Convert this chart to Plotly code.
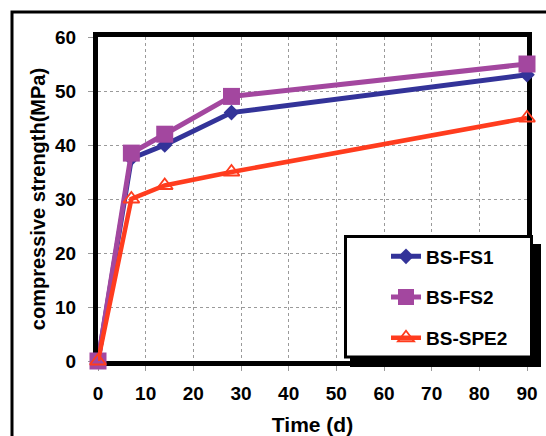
import plotly.graph_objects as go

days = [0, 7, 14, 28, 90]
bs_fs1 = [0, 37.5, 40, 46, 53]
bs_fs2 = [0, 38.5, 42, 49, 55]
bs_spe2 = [0, 30, 32.5, 35, 45]

x_ticks = [0, 10, 20, 30, 40, 50, 60, 70, 80, 90]
y_ticks = [0, 10, 20, 30, 40, 50, 60]

W, H = 546, 436
L, R, T, B = 98, 19, 37, 75
pw, ph = W - L - R, H - T - B


def px(x):
    return (x - L) / pw


def py(y):
    return 1 - (y - T) / ph


FONT = "Liberation Sans, Arial, sans-serif"

fig = go.Figure()
fig.add_trace(go.Scatter(
    x=days, y=bs_fs1, name="<b>BS-FS1</b>", mode="lines+markers",
    line=dict(color="#333399", width=5),
    marker=dict(symbol="diamond", size=12, color="#333399"),
    legendgroup="a", cliponaxis=False))
fig.add_trace(go.Scatter(
    x=days, y=bs_fs2, name="<b>BS-FS2</b>", mode="lines+markers",
    line=dict(color="#A3479F", width=5),
    marker=dict(symbol="square", size=17, color="#A3479F"),
    legendgroup="b", cliponaxis=False))
fig.add_trace(go.Scatter(
    x=days, y=bs_spe2, name="<b>BS-SPE2</b>", mode="lines+markers",
    line=dict(color="#FF3C1E", width=4.5),
    marker=dict(symbol="triangle-up-open", size=14, color="#FF3C1E",
                line=dict(width=1.8, color="#FF3C1E")),
    legendgroup="c", cliponaxis=False))

shapes = [
    # outer figure frame (left and top edges visible)
    dict(type="rect", xref="paper", yref="paper",
         x0=px(12), x1=px(560), y0=py(450), y1=py(12),
         line=dict(color="black", width=3), fillcolor="rgba(0,0,0,0)",
         layer="below"),
    # legend shadow
    dict(type="rect", xref="paper", yref="paper",
         x0=px(350), x1=px(541), y0=py(367), y1=py(244),
         line=dict(width=0), fillcolor="black", layer="above"),
    # legend box
    dict(type="rect", xref="paper", yref="paper",
         x0=px(345.5), x1=px(531.5), y0=py(357), y1=py(236.5),
         line=dict(color="black", width=3), fillcolor="white", layer="above"),
]

fig.update_layout(
    width=W, height=H,
    margin=dict(l=L, r=R, t=T, b=B),
    paper_bgcolor="white", plot_bgcolor="white",
    font=dict(family=FONT, color="black"),
    shapes=shapes,
    showlegend=True,
    legend=dict(
        x=px(386), y=py(237.5), xanchor="left", yanchor="top",
        bgcolor="rgba(0,0,0,0)", borderwidth=0,
        font=dict(size=19, family=FONT, color="black"),
        tracegroupgap=13,
    ),
    annotations=[
        dict(text="of the same years, Figure (4).", xref="paper", yref="paper",
             x=px(214), y=py(0), xanchor="right", yanchor="bottom",
             showarrow=False,
             font=dict(family="Liberation Serif, Times New Roman, serif",
                       size=20, color="black")),
    ],
)

fig.update_xaxes(
    range=[0, 90], tickvals=x_ticks,
    ticktext=[f"<b>{v}</b>" for v in x_ticks],
    tickfont=dict(size=19, family=FONT),
    showline=True, linewidth=5, linecolor="black", mirror=True,
    showgrid=True, gridcolor="#9a9a9a", griddash="dot", gridwidth=1,
    ticks="outside", ticklen=5, tickcolor="#9a9a9a", tickwidth=1,
    ticklabelstandoff=6, layer="below traces",
    zeroline=False, automargin=False,
    title=dict(text="<b>Time (d)</b>", font=dict(size=21, family=FONT),
               standoff=20),
)
fig.update_yaxes(
    range=[0, 60], tickvals=y_ticks,
    ticktext=[f"<b>{v}</b>" for v in y_ticks],
    tickfont=dict(size=19, family=FONT),
    showline=True, linewidth=5, linecolor="black", mirror=True,
    showgrid=True, gridcolor="#9a9a9a", griddash="dot", gridwidth=1,
    ticks="outside", ticklen=5, tickcolor="#9a9a9a", tickwidth=1,
    ticklabelstandoff=8, layer="below traces",
    zeroline=False, automargin=False,
    title=dict(text="<b>compressive strength(MPa)</b>",
               font=dict(size=20, family=FONT), standoff=6),
)

fig.write_html("out.html")
